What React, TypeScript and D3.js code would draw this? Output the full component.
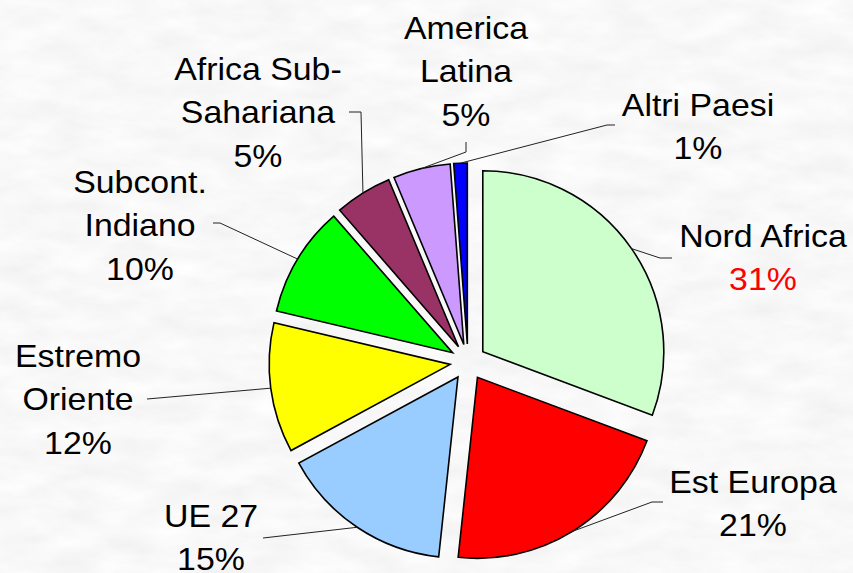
import React from "react";
import * as d3 from "d3";

const categories = [
  "Nord Africa",
  "Est Europa",
  "UE 27",
  "Estremo Oriente",
  "Subcont. Indiano",
  "Africa Sub-Sahariana",
  "America Latina",
  "Altri Paesi",
];
const values = [30.7, 21.0, 15.4, 11.6, 9.9, 5.1, 5.1, 1.2];
const labelLines = [
  ["Nord Africa"],
  ["Est Europa"],
  ["UE 27"],
  ["Estremo", "Oriente"],
  ["Subcont.", "Indiano"],
  ["Africa Sub-", "Sahariana"],
  ["America", "Latina"],
  ["Altri Paesi"],
];
const colors = ["#CCFFCC", "#FF0000", "#99CCFF", "#FFFF00", "#00FF00", "#993366", "#CC99FF", "#0000FF"];

// label layout: text center x, first baseline y, leader elbow points (label side)
const labelLayout = [
  { x: 763, y: 247, leader: [[660, 258], [672, 258]], pctColor: "#FF0000" },
  { x: 753, y: 493, leader: [[652, 502], [663, 502]], pctColor: "#000" },
  { x: 211, y: 527, leader: [[263, 538]], pctColor: "#000" },
  { x: 78, y: 367, leader: [[147, 399]], pctColor: "#000" },
  { x: 140, y: 193, leader: [[220, 223], [213, 223]], pctColor: "#000" },
  { x: 258, y: 80, leader: [[361, 112], [349, 112]], pctColor: "#000" },
  { x: 466, y: 39, leader: [[466, 152], [466, 142]], pctColor: "#000" },
  { x: 698, y: 116, leader: [[607, 125], [615, 125]], pctColor: "#000" },
];

const W = 853;
const H = 573;
const CX = 468;
const CY = 362;
const R = 181;
const EXPLODE = 18;
const LINE_H = 43.5;

export default function App() {
  const data = categories.map((c, i) => ({ c, v: values[i], i }));
  const pie = d3
    .pie<any>()
    .sort(null)
    .value((d: any) => d.v)
    .startAngle(0)
    .endAngle(2 * Math.PI);
  const arcs = pie(data);
  const arc = d3.arc<any>().innerRadius(0).outerRadius(R);
  const total = d3.sum(values);
  const fmt = (v: number) => `${Math.round((v / total) * 100)}%`;

  return (
    <div style={{ position: "absolute", left: 0, top: 0 }}>
      <svg width={W} height={H} style={{ display: "block" }}>
        <defs>
          <filter id="marble" x="0" y="0" width="100%" height="100%">
            <feTurbulence type="fractalNoise" baseFrequency="0.02 0.05" numOctaves={4} seed={7} result="n" />
            <feColorMatrix
              in="n"
              type="matrix"
              values="0.14 0 0 0 0.87  0.14 0 0 0 0.87  0.14 0 0 0 0.87  0 0 0 0 1"
            />
          </filter>
        </defs>
        <rect x={0} y={0} width={W} height={H} fill="#eeeeee" />
        <rect x={0} y={0} width={W} height={H} filter="url(#marble)" />
        <g transform={`translate(${CX},${CY})`}>
          {arcs.map((a: any, i: number) => {
            const mid = (a.startAngle + a.endAngle) / 2;
            const dx = Math.sin(mid) * EXPLODE;
            const dy = -Math.cos(mid) * EXPLODE;
            return (
              <path
                key={i}
                d={arc(a) as string}
                transform={`translate(${dx},${dy})`}
                fill={colors[i]}
                stroke="#000"
                strokeWidth={1.6}
                strokeLinejoin="miter"
              />
            );
          })}
        </g>
        {arcs.map((a: any, i: number) => {
          const mid = (a.startAngle + a.endAngle) / 2;
          const ox = CX + Math.sin(mid) * (R + EXPLODE);
          const oy = CY - Math.cos(mid) * (R + EXPLODE);
          const pts = [[ox, oy], ...labelLayout[i].leader];
          const line = d3.line()(pts as [number, number][]);
          return <path key={"l" + i} d={line as string} fill="none" stroke="#222" strokeWidth={1} />;
        })}
        {arcs.map((a: any, i: number) => {
          const L = labelLayout[i];
          const lines = labelLines[i];
          return (
            <g
              key={"t" + i}
              transform={`translate(${L.x},${L.y}) scale(1.11,1)`}
              fontFamily="'Liberation Sans', Arial, sans-serif"
              fontSize={30.5}
              textAnchor="middle"
            >
              {lines.map((t, k) => (
                <text key={k} x={0} y={k * LINE_H} fill="#000">
                  {t}
                </text>
              ))}
              <text x={0} y={lines.length * LINE_H} fill={L.pctColor}>
                {fmt(values[i])}
              </text>
            </g>
          );
        })}
      </svg>
    </div>
  );
}
